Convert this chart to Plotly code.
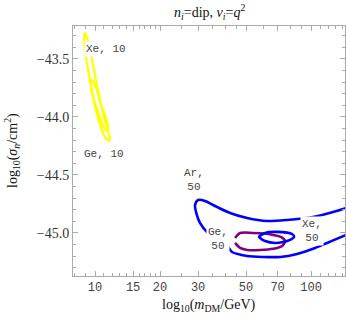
import math
import plotly.graph_objects as go

# ---- data: mass in GeV, y = log10(sigma_n/cm^2)
xe10_m = [8.99, 9.381, 9.894, 10.546, 11.24, 11.73, 11.61, 11.24, 10.546, 9.894, 9.381, 8.99, 8.894, 8.99]
xe10_s = [-43.276, -43.379, -43.595, -43.853, -44.069, -44.181, -44.207, -44.19, -44.069, -43.871, -43.638, -43.422, -43.319, -43.276]

ge10_m = [9.685, 10.107, 10.66, 11.24, 11.487, 11.36, 11.01, 10.435, 9.894, 9.583, 9.685]
ge10_s = [-43.681, -43.75, -43.897, -44.009, -44.095, -44.121, -44.095, -43.983, -43.853, -43.75, -43.681]

ar50_m = [168.6, 145.2, 126.4, 102.2, 77.43, 62.56, 50.54, 42.17, 35.18, 32.31, 29.99, 29.04, 29.5, 30.6, 33.0,
          37.9, 41.29, 43.08, 50.54, 59.95, 71.87, 86.13, 104.3, 118.6, 145.2, 168.6]
ar50_s = [-44.741, -44.784, -44.819, -44.862, -44.888, -44.897, -44.871, -44.828, -44.759, -44.724, -44.7155, -44.759, -44.836, -44.914, -44.991,
          -45.06, -45.121, -45.164, -45.198, -45.207, -45.207, -45.181, -45.129, -45.086, -45.017, -44.966]

ge50_m = [44.48, 46.92, 53.88, 60.5, 66.71, 72.5, 75.79, 73.5, 66.7, 58.05, 50.54, 46.92, 44.48]
ge50_s = [-45.043, -45.0, -45.0, -45.005, -45.017, -45.034, -45.069, -45.112, -45.137, -45.147, -45.147, -45.129, -45.086]

xe50_m = [57.44, 61.23, 69.6, 81.66, 83.43, 79.94, 74.2, 68.13, 61.23, 58.05, 57.44]
xe50_s = [-45.034, -45.0, -44.991, -45.009, -45.034, -45.06, -45.078, -45.086, -45.069, -45.043, -45.034]

labels_text = ["Xe, 10", "Ge, 10", "Ar,<br>50", "Ge,<br>50", "Xe,<br>50"]
labels_m = [11.24, 11.01, 28.73, 37.1, 101.1]
labels_s = [-43.414, -44.319, -44.543, -45.052, -44.983]

x_ticks = [10, 15, 20, 30, 50, 70, 100]
x_minor = [8, 9, 11, 12, 13, 14, 16, 17, 18, 19, 25, 35, 40, 45, 60, 80, 90, 110, 120, 130, 140]
y_ticks = [-43.5, -44.0, -44.5, -45.0]
y_minor = [-43.3, -43.4, -43.6, -43.7, -43.8, -43.9, -44.1, -44.2, -44.3, -44.4,
           -44.6, -44.7, -44.8, -44.9, -45.1, -45.2, -45.3]

fig = go.Figure()
curves = [
    (xe10_m, xe10_s, "#FFFF00", 2.2),
    (ge10_m, ge10_s, "#FFFF00", 2.2),
    (ar50_m, ar50_s, "#0000FF", 2.6),
    (ge50_m, ge50_s, "#800080", 2.6),
    (xe50_m, xe50_s, "#0000FF", 2.6),
]
for m, s, c, w in curves:
    fig.add_trace(go.Scatter(x=m, y=s, mode="lines", line=dict(color=c, width=w, shape="spline", smoothing=0.8),
                             hoverinfo="skip", showlegend=False, cliponaxis=True))

for t, m, s in zip(labels_text, labels_m, labels_s):
    fig.add_annotation(x=math.log10(m), y=s, xref="x", yref="y", text=t, showarrow=False,
                       font=dict(family="Liberation Mono", size=11, color="#444444"),
                       bgcolor="white", borderpad=1, align="center")

axis_common = dict(showgrid=False, zeroline=False, showline=True, linecolor="#aaaaaa", linewidth=1,
                   mirror="ticks", ticks="inside", ticklen=5, tickcolor="#aaaaaa", automargin=False)

fig.update_xaxes(type="log", range=[0.898, 2.157], tickvals=x_ticks, ticktext=[str(v) for v in x_ticks],
                 tickfont=dict(family="Liberation Mono", size=12, color="#444444"),
                 minor=dict(tickvals=x_minor, ticks="inside", ticklen=3, tickcolor="#aaaaaa"),
                 **axis_common)
fig.update_yaxes(range=[-45.371, -43.216], tickvals=y_ticks, ticktext=["\u221243.5", "\u221244.0", "\u221244.5", "\u221245.0"],
                 tickfont=dict(family="Liberation Serif", size=14, color="#333333"),
                 minor=dict(tickvals=y_minor, ticks="inside", ticklen=3, tickcolor="#aaaaaa"),
                 **axis_common)

serif = dict(family="Liberation Serif", size=14, color="#111111")
fig.add_annotation(xref="paper", yref="paper", x=0.5, y=1.0, yanchor="middle", yshift=14, showarrow=False,
                   text="<i>n<sub>i</sub></i>=dip, <i>ν<sub>i</sub></i>=<i>q</i><sup>2</sup>", font=serif)
fig.add_annotation(xref="paper", yref="paper", x=0.5, y=0.0, yanchor="middle", yshift=-29, showarrow=False,
                   text="log<sub>10</sub>(<i>m</i><sub>DM</sub>/GeV)", font=serif)
fig.add_annotation(xref="paper", yref="paper", x=0.0, y=0.5, xanchor="center", xshift=-61, showarrow=False,
                   textangle=-90, text="log<sub>10</sub>(<i>σ<sub>n</sub></i>/cm<sup>2</sup>)", font=serif)

fig.update_layout(width=346, height=319, margin=dict(l=73, r=1, t=26, b=43),
                  plot_bgcolor="white", paper_bgcolor="white")

# remove the page's default 8px body margin so the figure fills the window exactly
fig.write_html("out.html", config={"displayModeBar": False, "staticPlot": True},
               post_script="document.body.style.margin='0';document.body.style.overflow='hidden';")
